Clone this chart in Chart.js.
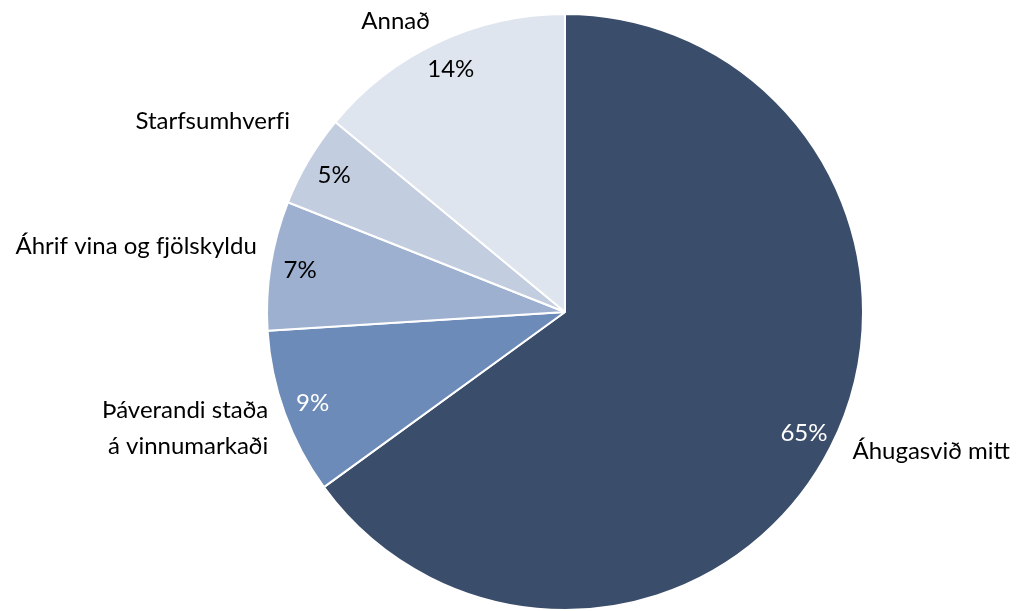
<!DOCTYPE html>
<html>
<head>
<meta charset="utf-8">
<script src="https://cdn.jsdelivr.net/npm/chart.js"></script>
<style>
  html, body { margin: 0; padding: 0; background: #fff; }
  #wrap { width: 1017px; height: 611px; }
</style>
</head>
<body>
<div id="wrap"><canvas id="pie"></canvas></div>
<script>
// gögn
const categories = ['Áhugasvið mitt', 'Þáverandi staða\ná vinnumarkaði', 'Áhrif vina og fjölskyldu', 'Starfsumhverfi', 'Annað'];
const shares = [65, 9, 7, 5, 14];
const sliceColors = ['#3A4D6B', '#6C8BB8', '#9DB0CF', '#C3CDE0', '#DFE5EF'];
const pctColors = ['#ffffff', '#ffffff', '#000000', '#000000', '#000000'];

// tilfærsla nafnamerkja frá jaðri sneiðar
const labelNudge = [[13, -1], [-7, 12], [-4, -18], [-10, -34], [-4, -12]];

const FONT = '24px Lato, "Open Sans", sans-serif';

// brjóta upp fi/fj samtengingar
const noLig = s => s.replace(/f(?=[ij])/g, 'f\u200C');

const labelPlugin = {
    id: 'pieLabels',
    afterDatasetsDraw(chart) {
        const ctx = chart.ctx;
        const arcs = chart.getDatasetMeta(0).data;
        ctx.save();
        ctx.font = FONT;
        arcs.forEach((arc, i) => {
            const p = arc.getProps(['x', 'y', 'startAngle', 'endAngle', 'outerRadius']);
            const mid = (p.startAngle + p.endAngle) / 2;
            const cos = Math.cos(mid), sin = Math.sin(mid);

            // prósenta inni í sneið
            ctx.fillStyle = pctColors[i];
            ctx.textAlign = 'center';
            ctx.textBaseline = 'middle';
            ctx.fillText(shares[i] + '%', p.x + cos * p.outerRadius * 0.9, p.y + sin * p.outerRadius * 0.9);

            // nafn utan við
            const ax = p.x + cos * (p.outerRadius + 10) + labelNudge[i][0];
            const ay = p.y + sin * (p.outerRadius + 10) + labelNudge[i][1];
            ctx.fillStyle = '#000000';
            ctx.textAlign = cos >= 0 ? 'left' : 'right';
            const lines = categories[i].split('\n');
            const lh = 36;
            lines.forEach((ln, k) => {
                ctx.fillText(noLig(ln), ax, ay + (k - (lines.length - 1) / 2) * lh);
            });
        });
        ctx.restore();
    }
};

new Chart(document.getElementById('pie'), {
    type: 'pie',
    data: {
        labels: categories,
        datasets: [{
            data: shares,
            backgroundColor: sliceColors,
            borderColor: '#ffffff',
            borderWidth: 2
        }]
    },
    options: {
        responsive: true,
        maintainAspectRatio: false,
        animation: false,
        layout: { padding: { top: 13, bottom: 0, left: 266, right: 153 } },
        plugins: {
            legend: { display: false },
            tooltip: { enabled: false }
        }
    },
    plugins: [labelPlugin]
});
</script>
</body>
</html>
